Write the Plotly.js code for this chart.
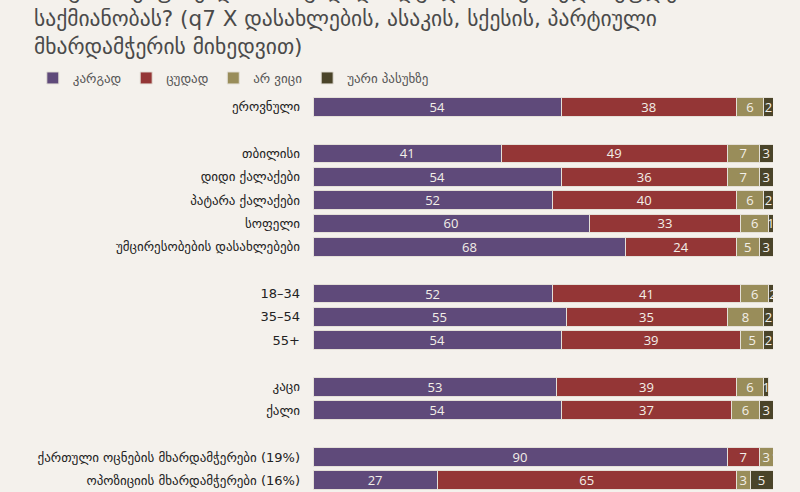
<!DOCTYPE html>
<html>
<head>
<meta charset="utf-8">
<script src="https://cdn.plot.ly/plotly-3.0.1.min.js"></script>
<style>
  html, body { margin: 0; padding: 0; background: #f4f1ec; }
  #chart { width: 800px; height: 492px; }
</style>
</head>
<body>
<div id="chart"></div>
<script>
// Row groups (a blank row is left between groups)
const groupNational = ["ეროვნული"];
const groupSettlement = ["თბილისი", "დიდი ქალაქები", "პატარა ქალაქები", "სოფელი", "უმცირესობების დასახლებები"];
const groupAge = ["18–34", "35–54", "55+"];
const groupSex = ["კაცი", "ქალი"];
const groupParty = ["ქართული ოცნების მხარდამჭერები (19%)", "ოპოზიციის მხარდამჭერები (16%)"];

// Answer shares (%), in row order
const good    = [54, 41, 54, 52, 60, 68, 52, 55, 54, 53, 54, 90, 27];
const bad     = [38, 49, 36, 40, 33, 24, 41, 35, 39, 39, 37, 7, 65];
const dontKnow = [6, 7, 7, 6, 6, 5, 6, 8, 5, 6, 6, 3, 3];
const refused = [2, 3, 3, 2, 1, 3, 2, 2, 2, 1, 3, 1, 5];

const seriesNames = ["კარგად", "ცუდად", "არ ვიცი", "უარი პასუხზე"];
const seriesColors = ["#5f4a7a", "#943636", "#998d5a", "#4a4429"];

// Build row labels and row slots with a gap between groups
const groups = [groupNational, groupSettlement, groupAge, groupSex, groupParty];
const labels = [];
const slots = [];
let slot = 0;
groups.forEach((g, gi) => {
  if (gi > 0) slot += 1;
  g.forEach(name => { labels.push(name); slots.push(slot); slot += 1; });
});
const lastSlot = slot - 1;

const seriesValues = [good, bad, dontKnow, refused];
const traces = seriesValues.map((vals, i) => ({
  type: "bar",
  orientation: "h",
  name: seriesNames[i],
  x: vals,
  y: slots,
  text: vals.map(String),
  textposition: "inside",
  insidetextanchor: "middle",
  textangle: 0,
  constraintext: "none",
  textfont: { family: "Open Sans, sans-serif", size: 13, color: "#f3efe8" },
  marker: { color: seriesColors[i], line: { color: "#e4e0d8", width: 1 } },
  width: 0.8,
  hoverinfo: "skip"
}));

const title =
  "როგორ შეაფასებდით, ზოგადად, ადგილობრივი ხელისუფლების<br>" +
  "საქმიანობას? (q7 X დასახლების, ასაკის, სქესის, პარტიული<br>" +
  "მხარდამჭერის მიხედვით)";

const plotTop = 95;
const plotHeight = 397;

const layout = {
  width: 800,
  height: 492,
  paper_bgcolor: "#f4f1ec",
  plot_bgcolor: "#f4f1ec",
  margin: { l: 313, r: 27, t: plotTop, b: 0 },
  barmode: "stack",
  showlegend: true,
  legend: {
    orientation: "h",
    xref: "container", yref: "container",
    x: 0.041, y: 1 - 63 / 492,
    xanchor: "left", yanchor: "top",
    itemwidth: 30,
    font: { family: "DejaVu Sans, sans-serif", size: 13, color: "#555" },
    bgcolor: "rgba(0,0,0,0)",
    traceorder: "normal"
  },
  xaxis: {
    range: [0, 100],
    showgrid: false, zeroline: false, showticklabels: false, showline: false, fixedrange: true
  },
  yaxis: {
    range: [lastSlot + 0.5, -0.5],
    tickmode: "array",
    tickvals: slots,
    ticktext: labels,
    showgrid: false, zeroline: false, showline: false, ticks: "",
    ticklabelstandoff: 12,
    tickfont: { family: "DejaVu Sans, sans-serif", size: 13, color: "#222" }
  },
  uniformtext: { mode: "show", minsize: 13 },
  annotations: [{
    text: title,
    xref: "paper", yref: "paper",
    x: (32 - 313) / 460, y: 1 + (plotTop - 61) / plotHeight,
    xanchor: "left", yanchor: "bottom",
    align: "left",
    showarrow: false,
    font: { family: "DejaVu Sans, sans-serif", size: 21.5, color: "#4a4a4a" }
  }]
};

Plotly.newPlot("chart", traces, layout, { displayModeBar: false, staticPlot: true });
</script>
</body>
</html>
